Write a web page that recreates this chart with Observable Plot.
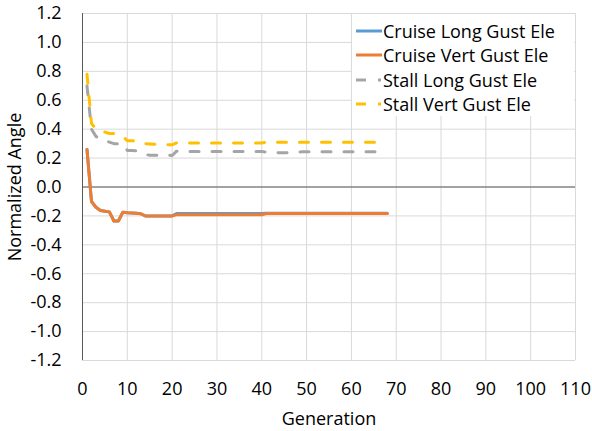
<!DOCTYPE html>
<html>
<head>
<meta charset="utf-8">
<script src="https://cdn.jsdelivr.net/npm/d3@7"></script>
<script src="https://cdn.jsdelivr.net/npm/@observablehq/plot@0.6"></script>
<style>
  html, body { margin: 0; padding: 0; background: #fff; }
  #wrap { position: relative; width: 592px; height: 431px; font-family: "Open Sans", sans-serif; }
  #legend { position: absolute; left: 352px; top: 14px; width: 222px; height: 102px; background: #fff; }
  .item { position: absolute; left: 0; height: 24px; display: flex; align-items: center; font-size: 18px; color: #000; white-space: nowrap; }
  .item svg { margin-left: 4px; margin-right: 1px; }
</style>
</head>
<body>
<div id="wrap"><div id="chart"></div><div id="legend"></div></div>
<script>
// Generations
const generation = [1,2,3,4,5,6,7,8,9,10,11,12,13,14,15,16,17,18,19,20,
  21,22,23,24,25,26,27,28,29,30,31,32,33,34,35,36,37,38,39,40,
  41,42,43,44,45,46,47,48,49,50,51,52,53,54,55,56,57,58,59,60,
  61,62,63,64,65,66,67,68];

const cruiseLong = [0.26,-0.10,-0.14,-0.163,-0.167,-0.172,-0.235,-0.235,-0.175,-0.178,
  -0.18,-0.182,-0.185,-0.20,-0.20,-0.20,-0.20,-0.20,-0.20,-0.20,
  -0.183,-0.183,-0.183,-0.183,-0.183,-0.183,-0.183,-0.183,-0.183,-0.183,
  -0.183,-0.183,-0.183,-0.183,-0.183,-0.183,-0.183,-0.183,-0.183,-0.183,
  -0.181,-0.181,-0.181,-0.181,-0.181,-0.181,-0.181,-0.181,-0.181,-0.181,
  -0.181,-0.181,-0.181,-0.181,-0.181,-0.181,-0.181,-0.181,-0.181,-0.181,
  -0.181,-0.181,-0.181,-0.181,-0.181,-0.181,-0.181,-0.181];

const cruiseVert = [0.26,-0.10,-0.14,-0.163,-0.167,-0.172,-0.235,-0.235,-0.175,-0.178,
  -0.18,-0.182,-0.185,-0.20,-0.20,-0.20,-0.20,-0.20,-0.20,-0.20,
  -0.192,-0.192,-0.192,-0.192,-0.192,-0.192,-0.192,-0.192,-0.192,-0.192,
  -0.192,-0.192,-0.192,-0.192,-0.192,-0.192,-0.192,-0.192,-0.192,-0.192,
  -0.183,-0.183,-0.183,-0.183,-0.183,-0.183,-0.183,-0.183,-0.183,-0.183,
  -0.183,-0.183,-0.183,-0.183,-0.183,-0.183,-0.183,-0.183,-0.183,-0.183,
  -0.183,-0.183,-0.183,-0.183,-0.183,-0.183,-0.183,-0.183];

const stallLong = [0.70,0.40,0.35,0.33,0.32,0.31,0.30,0.30,0.30,0.253,
  0.253,0.25,0.24,0.225,0.22,0.22,0.22,0.22,0.22,0.218,
  0.248,0.246,0.245,0.245,0.245,0.245,0.245,0.245,0.245,0.245,
  0.245,0.245,0.245,0.245,0.245,0.245,0.245,0.245,0.245,0.245,
  0.242,0.24,0.238,0.237,0.237,0.238,0.24,0.242,0.243,0.243,
  0.243,0.243,0.243,0.243,0.243,0.243,0.243,0.243,0.243,0.243,
  0.243,0.243,0.243,0.243,0.243,0.243,0.243,0.243];

const stallVert = [0.78,0.44,0.40,0.39,0.38,0.37,0.37,0.36,0.35,0.32,
  0.32,0.32,0.31,0.30,0.298,0.296,0.295,0.294,0.293,0.292,
  0.305,0.305,0.305,0.305,0.305,0.305,0.305,0.305,0.305,0.305,
  0.305,0.305,0.305,0.305,0.305,0.305,0.305,0.305,0.305,0.305,
  0.31,0.31,0.31,0.31,0.31,0.31,0.31,0.31,0.31,0.31,
  0.31,0.31,0.31,0.31,0.31,0.31,0.31,0.31,0.31,0.31,
  0.31,0.31,0.31,0.31,0.31,0.31,0.31,0.31];

const seriesNames = ["Cruise Long Gust Ele", "Cruise Vert Gust Ele", "Stall Long Gust Ele", "Stall Vert Gust Ele"];
const seriesColors = ["#5B9BD5", "#ED7D31", "#A5A5A5", "#FFC000"];
const seriesDashed = [false, false, true, true];

const xTicks = [0,10,20,30,40,50,60,70,80,90,100,110];
const yTicks = [-1.2,-1.0,-0.8,-0.6,-0.4,-0.2,0.0,0.2,0.4,0.6,0.8,1.0,1.2];

const allValues = [cruiseLong, cruiseVert, stallLong, stallVert];
const rows = [];
allValues.forEach((vals, s) => vals.forEach((v, i) => rows.push({series: seriesNames[s], gen: generation[i], value: v})));

const lineMarks = [];
// draw order: stall lines, then cruise long, then cruise vert on top
[2, 3, 0, 1].forEach(s => {
  lineMarks.push(Plot.line(rows.filter(d => d.series === seriesNames[s]), {
    x: "gen", y: "value",
    stroke: seriesColors[s], strokeWidth: 3,
    strokeDasharray: seriesDashed[s] ? "9,13" : null,
    strokeLinecap: "round",
    strokeLinejoin: "round"
  }));
});

const chart = Plot.plot({
  width: 592,
  height: 431,
  marginTop: 13,
  marginBottom: 71,
  marginLeft: 82,
  marginRight: 17,
  style: {fontFamily: "'Open Sans', sans-serif", fontSize: "18px", color: "#000", background: "#fff"},
  x: {domain: [0, 110], ticks: xTicks, tickSize: 0, tickPadding: 22, label: "Generation", labelAnchor: "center", labelOffset: 64, labelArrow: false},
  y: {domain: [-1.2, 1.2], ticks: yTicks, tickSize: 0, tickPadding: 21, tickFormat: d => d.toFixed(1), label: "Normalized Angle", labelAnchor: "center", labelOffset: 74, labelArrow: false},
  marks: [
    Plot.ruleX(xTicks.filter(d => d !== 0), {stroke: "#d9d9d9", strokeWidth: 1}),
    Plot.ruleY(yTicks, {stroke: "#d9d9d9", strokeWidth: 1}),
    Plot.ruleX([0], {stroke: "#595959", strokeWidth: 1}),
    Plot.ruleY([0], {stroke: "#595959", strokeWidth: 1}),
    ...lineMarks
  ]
});
document.getElementById("chart").appendChild(chart);

// legend
const legend = document.getElementById("legend");
const rowTops = [5, 29, 54, 78];
seriesNames.forEach((name, i) => {
  const item = document.createElement("div");
  item.className = "item";
  item.style.top = rowTops[i] + "px";
  const dash = seriesDashed[i] ? 'stroke-dasharray="10,12,3,10" ' : '';
  item.innerHTML = `<svg width="26" height="6"><line x1="0" y1="3" x2="26" y2="3" stroke="${seriesColors[i]}" stroke-width="3" ${dash}/></svg><span>${name}</span>`;
  legend.appendChild(item);
});
</script>
</body>
</html>
